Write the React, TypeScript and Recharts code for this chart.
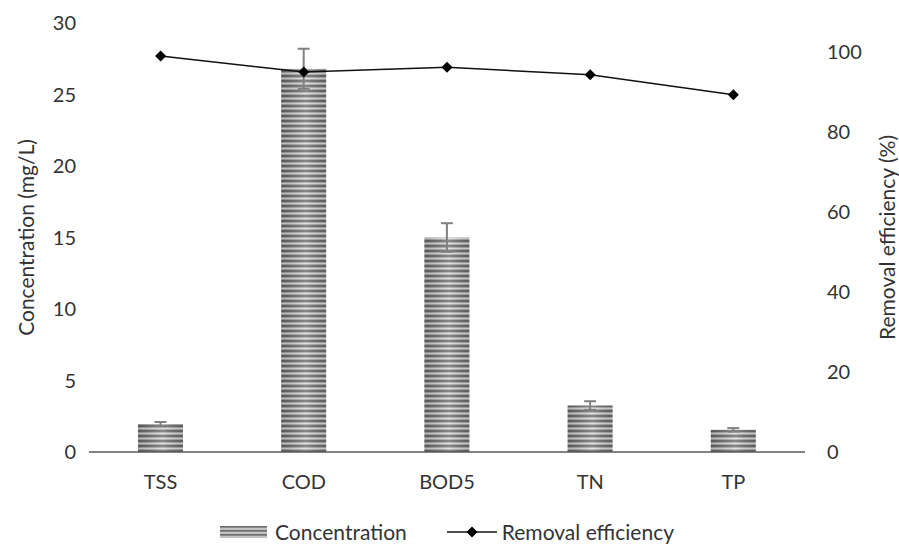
import { ComposedChart, Bar, Line, XAxis, YAxis, ErrorBar } from 'recharts';

const categories = ['TSS', 'COD', 'BOD5', 'TN', 'TP'];
const concentration = [1.95, 26.8, 15.0, 3.25, 1.55];
const concentrationErr = [0.15, 1.4, 1.0, 0.3, 0.12];
const efficiency = [99.0, 95.0, 96.2, 94.3, 89.3];
const leftTicks = [0, 5, 10, 15, 20, 25, 30];
const rightTicks = [0, 20, 40, 60, 80, 100];

const data = categories.map((name, i) => ({
  name,
  conc: concentration[i],
  err: concentrationErr[i],
  eff: efficiency[i],
}));

const FONT = 'Lato, "Open Sans", sans-serif';
const TEXT = '#333333';

const StripedBar = (props: any) => {
  const { x, y, width, height } = props;
  if (!height || height <= 0) return null;
  return (
    <g>
      <rect x={x} y={y} width={width} height={height} fill="url(#stripes)" />
      <rect x={x} y={y} width={width} height={height} fill="url(#shade)" />
    </g>
  );
};

const Diamond = (props: any) => {
  const { cx, cy } = props;
  const r = 5.5;
  return (
    <polygon
      points={`${cx},${cy - r} ${cx + r},${cy} ${cx},${cy + r} ${cx - r},${cy}`}
      fill="#000"
    />
  );
};

const LeftTitle = (props: any) => {
  const { viewBox } = props;
  const cx = 25;
  const cy = viewBox.y + viewBox.height / 2;
  return (
    <text x={cx} y={cy} transform={`rotate(-90 ${cx} ${cy})`} textAnchor="middle"
      dominantBaseline="central" fill={TEXT} fontSize={21} fontFamily={FONT}>
      Concentration (mg/L)
    </text>
  );
};

const RightTitle = (props: any) => {
  const { viewBox } = props;
  const cx = 886;
  const cy = viewBox.y + viewBox.height / 2;
  return (
    <text x={cx} y={cy} transform={`rotate(-90 ${cx} ${cy})`} textAnchor="middle"
      dominantBaseline="central" fill={TEXT} fontSize={21} fontFamily={FONT}>
      Removal efficiency (%)
    </text>
  );
};

const App = () => {
  const tick = { fill: TEXT, fontSize: 20, fontFamily: FONT };
  return (
    <div style={{ position: 'absolute', left: 0, top: 0, width: 899, height: 545, background: '#fff' }}>
      <ComposedChart width={899} height={545} data={data}
        margin={{ top: 23, right: 34, bottom: 53, left: 0 }}>
        <defs>
          <pattern id="stripes" patternUnits="userSpaceOnUse" width={10} height={5}>
            <rect x={0} y={0} width={10} height={5} fill="#a9a9a9" />
            <rect x={0} y={0} width={10} height={2} fill="#6b6b6b" />
            <rect x={0} y={3} width={10} height={1} fill="#dcdcdc" />
          </pattern>
          <linearGradient id="shade" x1="0" y1="0" x2="1" y2="0">
            <stop offset="0" stopColor="#000" stopOpacity={0.18} />
            <stop offset="0.55" stopColor="#fff" stopOpacity={0.2} />
            <stop offset="1" stopColor="#000" stopOpacity={0.12} />
          </linearGradient>
        </defs>
        <XAxis dataKey="name" tick={tick} tickLine={false} tickSize={6} tickMargin={17}
          height={40} axisLine={{ stroke: '#595959', strokeWidth: 1.5 }} />
        <YAxis yAxisId="left" domain={[0, 30]} ticks={leftTicks} width={89}
          tick={tick} tickLine={false} axisLine={false} tickSize={6} tickMargin={7}
          label={<LeftTitle />} />
        <YAxis yAxisId="right" orientation="right" domain={[0, 107.25]} ticks={rightTicks}
          width={60} tick={{ ...tick, textAnchor: 'start' }} tickLine={false} axisLine={false}
          tickSize={6} tickMargin={16} label={<RightTitle />} />
        <Bar yAxisId="left" dataKey="conc" barSize={45} shape={<StripedBar />}
          isAnimationActive={false}>
          <ErrorBar dataKey="err" width={6} stroke="#808080" strokeWidth={2} />
        </Bar>
        <Line yAxisId="right" dataKey="eff" type="linear" stroke="#111" strokeWidth={1.5}
          dot={<Diamond />} activeDot={false} isAnimationActive={false} />
      </ComposedChart>
      <div style={{
        position: 'absolute', top: 521, left: 89, width: 716, display: 'flex',
        justifyContent: 'center', alignItems: 'center', fontFamily: FONT, fontSize: 21,
        color: TEXT, lineHeight: '22px',
      }}>
        <svg width={47} height={12} style={{ marginRight: 8 }}>
          <rect x={0} y={0} width={47} height={12} fill="url(#stripesLegend)" />
          <defs>
            <pattern id="stripesLegend" patternUnits="userSpaceOnUse" width={10} height={4}>
              <rect x={0} y={0} width={10} height={4} fill="#a9a9a9" />
              <rect x={0} y={0} width={10} height={1.5} fill="#6b6b6b" />
              <rect x={0} y={2.5} width={10} height={1} fill="#dcdcdc" />
            </pattern>
          </defs>
        </svg>
        <span>Concentration</span>
        <svg width={50} height={12} style={{ marginLeft: 40, marginRight: 5 }}>
          <line x1={0} y1={6} x2={50} y2={6} stroke="#111" strokeWidth={1.5} />
          <polygon points="25,0.5 30.5,6 25,11.5 19.5,6" fill="#000" />
        </svg>
        <span>Removal efficiency</span>
      </div>
    </div>
  );
};

export default App;
